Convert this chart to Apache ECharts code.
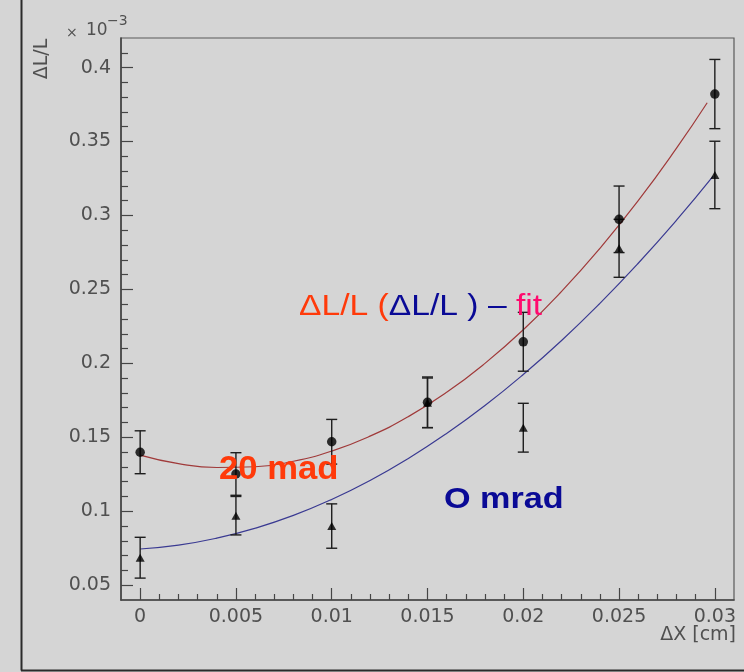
<!DOCTYPE html>
<html>
<head>
<meta charset="utf-8">
<script src="https://cdn.jsdelivr.net/npm/echarts@6/dist/echarts.min.js"></script>
<style>
  html, body { margin: 0; padding: 0; background: #d5d5d5; }
  #chart { width: 744px; height: 672px; }
</style>
</head>
<body>
<div id="chart"></div>
<script>
// Measured points: ΔL/L (in units of 10^-3) versus displacement ΔX [cm]
const xPoints = [0, 0.005, 0.01, 0.015, 0.02, 0.025, 0.03];

// 20 mrad (circles)
const mrad20 = [0.1399, 0.1252, 0.1470, 0.1737, 0.2146, 0.2974, 0.3821];
const mrad20Err = [0.0145, 0.0144, 0.0151, 0.0171, 0.0199, 0.0225, 0.0234];

// 0 mrad (triangles)
const mrad0 = [0.0686, 0.0970, 0.0900, 0.1733, 0.1565, 0.2778, 0.3274];
const mrad0Err = [0.0138, 0.0130, 0.0150, 0.0168, 0.0165, 0.0196, 0.0228];

// Fit curves sampled along ΔX
const fitX20 = [0, 0.002, 0.004, 0.006, 0.008, 0.01, 0.012, 0.014, 0.016, 0.018, 0.02, 0.022, 0.024, 0.026, 0.028, 0.0296];
const fit20 = [0.1380, 0.1322, 0.1296, 0.1301, 0.1338, 0.1407, 0.1508, 0.1640, 0.1804, 0.2000, 0.2227, 0.2487, 0.2778, 0.3100, 0.3455, 0.3762];
const fitX0 = [0, 0.002, 0.004, 0.006, 0.008, 0.01, 0.012, 0.014, 0.016, 0.018, 0.02, 0.022, 0.024, 0.026, 0.028, 0.0299];
const fit0 = [0.0745, 0.0771, 0.0818, 0.0885, 0.0972, 0.1080, 0.1208, 0.1357, 0.1526, 0.1715, 0.1925, 0.2155, 0.2406, 0.2677, 0.2968, 0.3264];

// Axis ticks
const xTicks = [0, 0.005, 0.01, 0.015, 0.02, 0.025, 0.03];
const xMinorTicks = [0.001, 0.002, 0.003, 0.004, 0.006, 0.007, 0.008, 0.009,
  0.011, 0.012, 0.013, 0.014, 0.016, 0.017, 0.018, 0.019,
  0.021, 0.022, 0.023, 0.024, 0.026, 0.027, 0.028, 0.029];
const yTicks = [0.05, 0.1, 0.15, 0.2, 0.25, 0.3, 0.35, 0.4];
const yMinorTicks = [0.06, 0.07, 0.08, 0.09, 0.11, 0.12, 0.13, 0.14,
  0.16, 0.17, 0.18, 0.19, 0.21, 0.22, 0.23, 0.24, 0.26, 0.27, 0.28, 0.29,
  0.31, 0.32, 0.33, 0.34, 0.36, 0.37, 0.38, 0.39, 0.41];

const X_MIN = -0.001, X_MAX = 0.031;
const Y_MIN = 0.04, Y_MAX = 0.42;

const labelFont = { fontFamily: 'DejaVu Sans', fontSize: 19, color: '#505050' };
const axisColor = '#454545';

function pairs(xs, ys) { return xs.map((x, i) => [x, ys[i]]); }
function errTriples(xs, ys, es) { return xs.map((x, i) => [x, ys[i], es[i]]); }

function renderErrorBar(params, api) {
  const x = api.value(0), y = api.value(1), e = api.value(2);
  const top = api.coord([x, y + e]);
  const bot = api.coord([x, y - e]);
  const half = 5.5;
  const style = { stroke: '#1e1e1e', lineWidth: 1.4 };
  return {
    type: 'group',
    children: [
      { type: 'line', shape: { x1: top[0], y1: top[1], x2: bot[0], y2: bot[1] }, style },
      { type: 'line', shape: { x1: top[0] - half, y1: top[1], x2: top[0] + half, y2: top[1] }, style },
      { type: 'line', shape: { x1: bot[0] - half, y1: bot[1], x2: bot[0] + half, y2: bot[1] }, style }
    ]
  };
}

const chart = echarts.init(document.getElementById('chart'), null, { renderer: 'canvas' });

chart.setOption({
  backgroundColor: '#d5d5d5',
  animation: false,
  grid: {
    left: 121, right: 10, top: 38, bottom: 72,
    show: true, borderColor: '#5a5a5a', borderWidth: 1.2, backgroundColor: 'transparent'
  },
  xAxis: [
    {
      type: 'value', min: X_MIN, max: X_MAX, position: 'bottom',
      axisLine: { show: true, onZero: false, lineStyle: { color: axisColor, width: 1.6 } },
      axisTick: { show: true, inside: true, length: 12, customValues: xTicks, lineStyle: { color: axisColor, width: 1.2 } },
      axisLabel: { show: true, margin: 8, customValues: xTicks, formatter: v => String(v), ...labelFont },
      splitLine: { show: false }
    },
    {
      type: 'value', min: X_MIN, max: X_MAX, position: 'bottom',
      axisLine: { show: false, onZero: false },
      axisTick: { show: true, inside: true, length: 6, customValues: xMinorTicks, lineStyle: { color: axisColor, width: 1.2 } },
      axisLabel: { show: false },
      splitLine: { show: false }
    }
  ],
  yAxis: [
    {
      type: 'value', min: Y_MIN, max: Y_MAX, position: 'left',
      axisLine: { show: true, onZero: false, lineStyle: { color: axisColor, width: 1.6 } },
      axisTick: { show: true, inside: true, length: 12, customValues: yTicks, lineStyle: { color: axisColor, width: 1.2 } },
      axisLabel: { show: true, margin: 10, customValues: yTicks, formatter: v => String(v), ...labelFont },
      splitLine: { show: false }
    },
    {
      type: 'value', min: Y_MIN, max: Y_MAX, position: 'left', offset: 0,
      axisLine: { show: false, onZero: false },
      axisTick: { show: true, inside: true, length: 7, customValues: yMinorTicks, lineStyle: { color: axisColor, width: 1.2 } },
      axisLabel: { show: false },
      splitLine: { show: false }
    }
  ],
  series: [
    {
      name: 'fit 20 mrad', type: 'line', data: pairs(fitX20, fit20), smooth: true,
      showSymbol: false, z: 2, lineStyle: { color: '#a03a3a', width: 1.2 }
    },
    {
      name: 'fit 0 mrad', type: 'line', data: pairs(fitX0, fit0), smooth: true,
      showSymbol: false, z: 2, lineStyle: { color: '#3a3a92', width: 1.2 }
    },
    {
      name: 'err 20 mrad', type: 'custom', renderItem: renderErrorBar, z: 3,
      data: errTriples(xPoints, mrad20, mrad20Err), encode: { x: 0, y: 1 }
    },
    {
      name: 'err 0 mrad', type: 'custom', renderItem: renderErrorBar, z: 3,
      data: errTriples(xPoints, mrad0, mrad0Err), encode: { x: 0, y: 1 }
    },
    {
      name: '0 mrad', type: 'scatter', data: pairs(xPoints, mrad0), symbol: 'triangle',
      symbolSize: [9, 8], z: 4, itemStyle: { color: '#000' }
    },
    {
      name: '20 mrad', type: 'scatter', data: pairs(xPoints, mrad20), symbol: 'circle',
      symbolSize: 9.5, z: 5, itemStyle: { color: '#000' }
    }
  ],
  graphic: [
    // canvas frame edges
    { type: 'line', silent: true, shape: { x1: 21.5, y1: 0, x2: 21.5, y2: 670.5 }, style: { stroke: '#2b2b2b', lineWidth: 2 } },
    { type: 'line', silent: true, shape: { x1: 21, y1: 670.5, x2: 744, y2: 670.5 }, style: { stroke: '#2b2b2b', lineWidth: 2 } },
    // axis titles
    {
      type: 'text', x: 42.5, y: 59, rotation: Math.PI / 2,
      style: { text: 'ΔL/L', font: '19px "DejaVu Sans"', fill: '#505050', align: 'center', verticalAlign: 'middle' }
    },
    { type: 'text', x: 66, y: 33, style: { text: '×', font: '14px "DejaVu Sans"', fill: '#505050', align: 'left', verticalAlign: 'middle' } },
    { type: 'text', x: 86, y: 31, style: { text: '10', font: '17px "DejaVu Sans"', fill: '#505050', align: 'left', verticalAlign: 'middle' } },
    { type: 'text', x: 107, y: 21.5, style: { text: '−3', font: '14px "DejaVu Sans"', fill: '#505050', align: 'left', verticalAlign: 'middle' } },
    {
      type: 'text', x: 736, y: 635,
      style: { text: 'ΔX [cm]', font: '19px "DejaVu Sans"', fill: '#505050', align: 'right', verticalAlign: 'middle' }
    },
    // annotations
    {
      type: 'text', x: 299, y: 306.5, scaleX: 1.16, z: 10,
      style: {
        text: '{a|ΔL/L (}{b|ΔL/L ) – }{c|fit}',
        align: 'left', verticalAlign: 'middle',
        rich: {
          a: { fontFamily: 'Liberation Sans', fontSize: 29, fill: '#ff3a0a' },
          b: { fontFamily: 'Liberation Sans', fontSize: 29, fill: '#0a0a96' },
          c: { fontFamily: 'Liberation Sans', fontSize: 29, fill: '#ff0a6e' }
        }
      }
    },
    {
      type: 'text', x: 219, y: 470, scaleX: 1.05, z: 10,
      style: { text: '20 mad', font: 'bold 33px "Liberation Sans"', fill: '#ff3a0a', align: 'left', verticalAlign: 'middle' }
    },
    {
      type: 'text', x: 444, y: 500, scaleX: 1.14, z: 10,
      style: { text: 'O mrad', font: 'bold 30px "Liberation Sans"', fill: '#0a0a96', align: 'left', verticalAlign: 'middle' }
    }
  ]
});
</script>
</body>
</html>
